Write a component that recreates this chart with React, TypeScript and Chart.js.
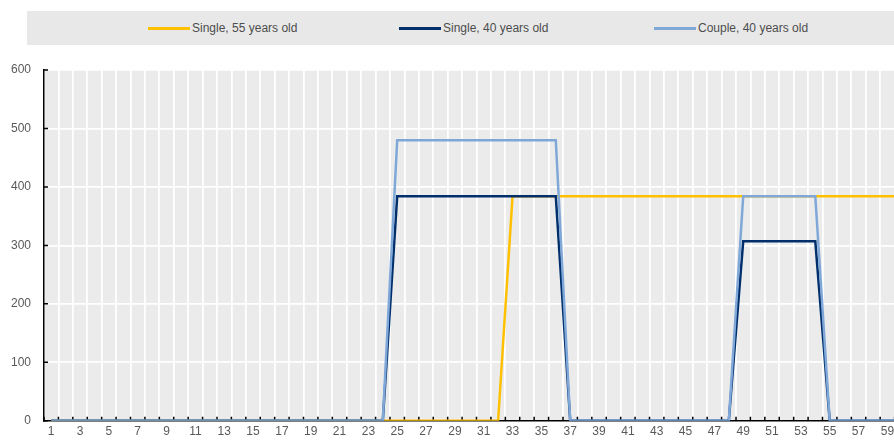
import React, { useEffect, useRef } from "react";
import { Chart, registerables } from "chart.js";

Chart.register(...registerables);

const categories = [
  "1","2","3","4","5","6","7","8","9","10","11","12","13","14","15","16","17","18","19","20",
  "21","22","23","24","25","26","27","28","29","30","31","32","33","34","35","36","37","38","39","40",
  "41","42","43","44","45","46","47","48","49","50","51","52","53","54","55","56","57","58","59","60",
];

const single55 = [
  0,0,0,0,0,0,0,0,0,0,0,0,0,0,0,0,0,0,0,0,
  0,0,0,0,0,0,0,0,0,0,0,0,384,384,384,384,384,384,384,384,
  384,384,384,384,384,384,384,384,384,384,384,384,384,384,384,384,384,384,384,384,
];

const single40 = [
  0,0,0,0,0,0,0,0,0,0,0,0,0,0,0,0,0,0,0,0,
  0,0,0,0,384,384,384,384,384,384,384,384,384,384,384,384,0,0,0,0,
  0,0,0,0,0,0,0,0,307,307,307,307,307,307,0,0,0,0,0,0,
];

const couple40 = [
  0,0,0,0,0,0,0,0,0,0,0,0,0,0,0,0,0,0,0,0,
  0,0,0,0,480,480,480,480,480,480,480,480,480,480,480,480,0,0,0,0,
  0,0,0,0,0,0,0,0,384,384,384,384,384,384,0,0,0,0,0,0,
];

const seriesNames = ["Single, 55 years old", "Single, 40 years old", "Couple, 40 years old"];
const seriesColors = ["#FFC000", "#002F6C", "#7FA8D9"];

const innerTicks = {
  id: "innerTicks",
  beforeDatasetsDraw(chart: any) {
    const { ctx, chartArea, scales } = chart;
    const y = scales.y;
    ctx.save();
    ctx.strokeStyle = "#000";
    ctx.lineWidth = 1.5;
    ctx.beginPath();
    const n = categories.length;
    for (let i = 0; i <= n; i++) {
      const px = chartArea.left + ((chartArea.right - chartArea.left) * i) / n;
      ctx.moveTo(px, chartArea.bottom);
      ctx.lineTo(px, chartArea.bottom - 4);
    }
    for (const t of y.ticks) {
      const py = y.getPixelForValue(t.value);
      ctx.moveTo(chartArea.left, py);
      ctx.lineTo(chartArea.left + 4, py);
    }
    ctx.stroke();
    ctx.restore();
  },
};

const bgPlugin = {
  id: "plotBg",
  beforeDraw(chart: any) {
    const { ctx, chartArea } = chart;
    ctx.save();
    ctx.fillStyle = "#EBEBEB";
    ctx.fillRect(chartArea.left, chartArea.top, chartArea.right - chartArea.left, chartArea.bottom - chartArea.top);
    ctx.restore();
  },
};

export default function App() {
  const ref = useRef<HTMLCanvasElement | null>(null);

  useEffect(() => {
    if (!ref.current) return;
    const font = { family: "'Liberation Sans', Arial, sans-serif", size: 12 };
    const chart = new Chart(ref.current, {
      type: "line",
      data: {
        labels: categories,
        datasets: [
          { label: seriesNames[0], data: single55, borderColor: seriesColors[0], backgroundColor: seriesColors[0], borderWidth: 2.5, pointRadius: 0, order: 2 },
          { label: seriesNames[1], data: single40, borderColor: seriesColors[1], backgroundColor: seriesColors[1], borderWidth: 2.5, pointRadius: 0, order: 1 },
          { label: seriesNames[2], data: couple40, borderColor: seriesColors[2], backgroundColor: seriesColors[2], borderWidth: 2.5, pointRadius: 0, order: 0 },
        ],
      },
      options: {
        animation: false,
        responsive: false,
        maintainAspectRatio: false,
        layout: { padding: { top: 70, left: 0, right: 0, bottom: 0 } },
        plugins: { legend: { display: false }, tooltip: { enabled: false } },
        scales: {
          x: {
            type: "category",
            offset: true,
            grid: { display: true, offset: true, color: "#FFFFFF", lineWidth: 1.8, drawTicks: false },
            border: { display: true, color: "#000000", width: 1.5 },
            ticks: {
              autoSkip: false,
              maxRotation: 0,
              minRotation: 0,
              padding: 4,
              color: "#595959",
              font,
              callback: (_v: any, i: number) => (i % 2 === 0 ? categories[i] : ""),
            },
            afterFit: (axis: any) => { axis.height = 18; },
          },
          y: {
            min: 0,
            max: 600,
            grid: { color: "#FFFFFF", lineWidth: 1.8, drawTicks: false },
            border: { display: true, color: "#000000", width: 1.5 },
            ticks: { stepSize: 100, padding: 13, color: "#595959", font },
            afterFit: (axis: any) => { axis.width = 44; },
          },
        },
      },
      plugins: [bgPlugin, innerTicks],
    });
    return () => chart.destroy();
  }, []);

  const legendStarts = [148, 399, 654];

  return (
    <div style={{ position: "fixed", left: 0, top: 0, width: 894, height: 441, background: "#fff", overflow: "hidden" }}>
      <canvas ref={ref} width={909} height={441} style={{ position: "absolute", left: 0, top: 0 }} />
      <div style={{ position: "absolute", left: 27, top: 11, width: 867, height: 34, background: "#E8E8E8" }} />
      {seriesNames.map((name, i) => (
        <div
          key={name}
          style={{
            position: "absolute",
            left: legendStarts[i],
            top: 11,
            height: 34,
            display: "flex",
            alignItems: "center",
            fontFamily: "'Liberation Sans', Arial, sans-serif",
            fontSize: 12,
            color: "#4D4D4D",
            whiteSpace: "nowrap",
          }}
        >
          <span style={{ display: "inline-block", width: 42, height: 3, background: seriesColors[i], marginRight: 2 }} />
          <span>{name}</span>
        </div>
      ))}
    </div>
  );
}
